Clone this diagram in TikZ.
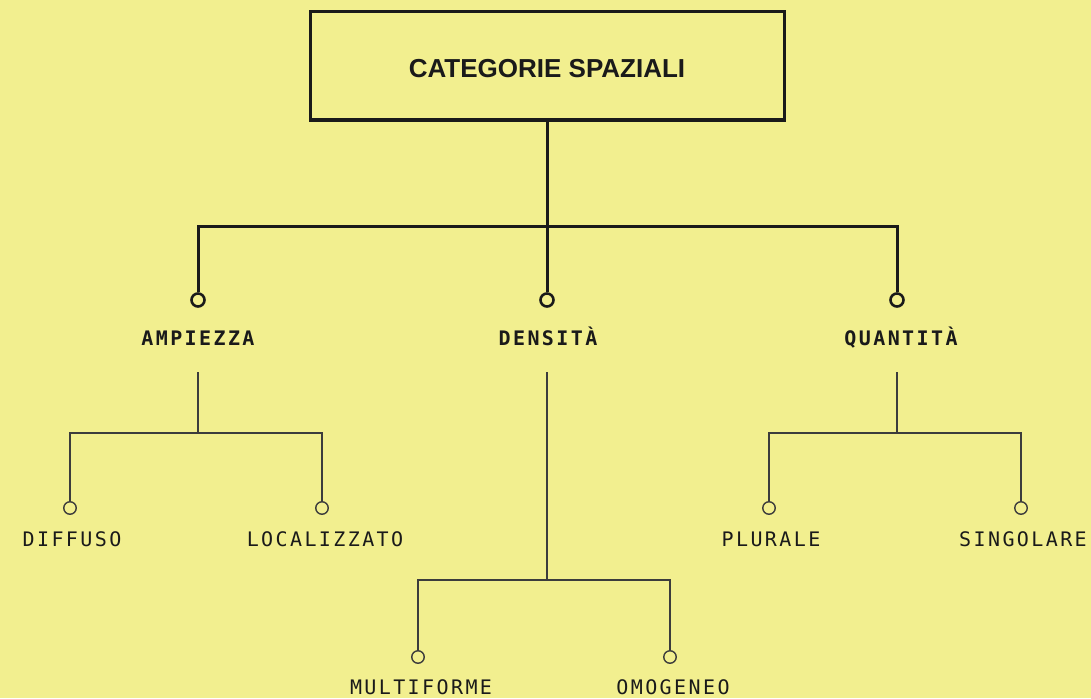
\documentclass[tikz,border=0pt]{standalone}
\usepackage{fontspec}
\setmainfont{Liberation Sans}
\newfontfamily\titlefont{Liberation Sans}
\newfontfamily\labelfont[LetterSpace=12]{DejaVu Sans Mono}
\definecolor{paper}{RGB}{242,239,143}
\definecolor{ink}{RGB}{26,26,26}
\tikzset{
  titlebox/.style={draw=ink, line width=3pt, minimum width=474pt, minimum height=108pt, inner sep=0pt},
  mainline/.style={draw=ink, line width=3pt},
  subline/.style={draw=ink!85, line width=1.4pt},
  bigdot/.style={circle, draw=ink, line width=2.6pt, fill=paper, minimum size=13pt, inner sep=0pt},
  smalldot/.style={circle, draw=ink!85, line width=1.4pt, fill=paper, minimum size=12.5pt, inner sep=0pt},
  catlabel/.style={anchor=base, inner sep=0pt, text=ink, font=\labelfont\bfseries\fontsize{20}{21}\selectfont},
  leaflabel/.style={anchor=base, inner sep=0pt, text=ink, font=\labelfont\fontsize{20}{21}\selectfont},
}
\begin{document}
\begin{tikzpicture}[x=1pt, y=-1pt]
  \fill[paper] (0,0) rectangle (1091,698);
  \useasboundingbox (0,0) rectangle (1091,698);

  % root
  \node[titlebox] (root) at (547,66) {};
  \node[anchor=base, inner sep=0pt, text=ink, font=\titlefont\bfseries\fontsize{26}{27}\selectfont] (roottext) at (547,78) {CATEGORIE SPAZIALI};

  % first level
  \coordinate (rootjoin) at (547,226);
  \node[bigdot] (camp) at (198,300) {};
  \node[bigdot] (cden) at (547,300) {};
  \node[bigdot] (cqua) at (897,300) {};
  \draw[mainline] (root.south) -- (rootjoin);
  \draw[mainline] (camp.north) |- (rootjoin) -| (cqua.north);
  \draw[mainline] (rootjoin) -- (cden.north);

  \node[catlabel] (amp) at (198,345) {AMPIEZZA};
  \node[catlabel] (den) at (548,345) {DENSITÀ};
  \node[catlabel] (qua) at (901,345) {QUANTITÀ};

  % ampiezza branch
  \coordinate (ampstem) at (198,372);
  \coordinate (ampjoin) at (198,433);
  \node[smalldot] (cdif) at (70,508) {};
  \node[smalldot] (cloc) at (322,508) {};
  \draw[subline] (ampstem) -- (ampjoin);
  \draw[subline] (cdif.north) |- (ampjoin) -| (cloc.north);
  \node[leaflabel] (dif) at (72,546) {DIFFUSO};
  \node[leaflabel] (loc) at (325,546) {LOCALIZZATO};

  % densita branch
  \coordinate (denstem) at (547,372);
  \coordinate (denjoin) at (547,580);
  \node[smalldot] (cmul) at (418,657) {};
  \node[smalldot] (como) at (670,657) {};
  \draw[subline] (denstem) -- (denjoin);
  \draw[subline] (cmul.north) |- (denjoin) -| (como.north);
  \node[leaflabel] (mul) at (421,694) {MULTIFORME};
  \node[leaflabel] (omo) at (673,694) {OMOGENEO};

  % quantita branch
  \coordinate (quastem) at (897,372);
  \coordinate (quajoin) at (897,433);
  \node[smalldot] (cplu) at (769,508) {};
  \node[smalldot] (csin) at (1021,508) {};
  \draw[subline] (quastem) -- (quajoin);
  \draw[subline] (cplu.north) |- (quajoin) -| (csin.north);
  \node[leaflabel] (plu) at (771,546) {PLURALE};
  \node[leaflabel] (sin) at (1023,546) {SINGOLARE};
\end{tikzpicture}
\end{document}
